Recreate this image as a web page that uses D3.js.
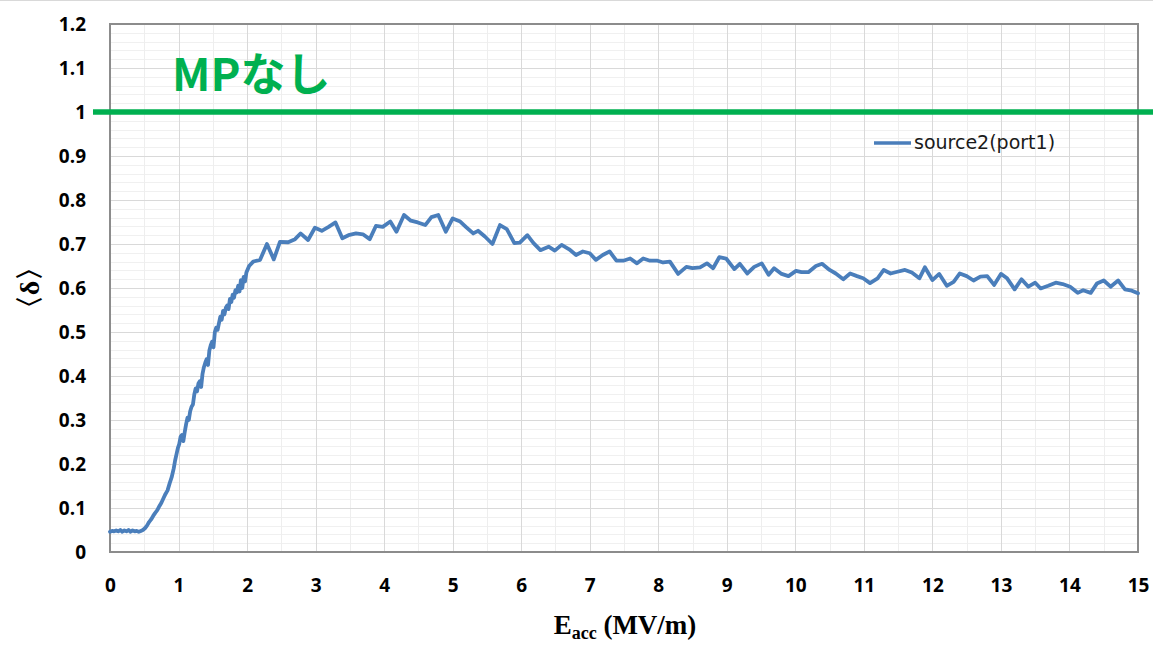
<!DOCTYPE html>
<html>
<head>
<meta charset="utf-8">
<script src="https://cdn.jsdelivr.net/npm/d3@7"></script>
<style>
  html, body { margin: 0; padding: 0; background: #fff; }
  svg { display: block; }
</style>
</head>
<body>
<div id="chart"></div>
<script>
// ---- Data ----
const eacc = [
  0.00,0.03,0.06,0.09,0.12,0.15,0.18,0.21,0.24,0.27,0.30,0.33,0.36,0.39,0.42,0.45,0.48,
  0.51,0.54,0.57,0.60,0.63,0.66,0.69,0.72,0.75,0.78,0.81,0.84,0.87,0.90,0.93,0.95,0.97,0.99,
  1.01,1.03,1.05,1.07,1.09,1.11,1.13,1.15,1.17,1.19,1.21,1.23,1.25,1.27,1.29,1.31,1.33,1.35,
  1.37,1.39,1.41,1.43,1.45,1.47,1.49,1.51,1.53,1.55,1.57,1.59,1.61,1.63,1.65,1.67,1.69,1.71,
  1.73,1.75,1.77,1.79,1.81,1.83,1.85,1.87,1.89,1.91,1.93,1.95,1.97,1.99,2.03,2.09,2.19,
  2.29,2.39,2.48,2.60,2.70,2.78,2.89,2.99,3.09,3.19,3.29,3.39,3.48,3.59,3.69,3.79,3.88,3.98,
  4.09,4.18,4.29,4.39,4.49,4.60,4.69,4.79,4.90,5.00,5.11,5.20,5.30,5.37,5.47,5.58,5.69,5.79,
  5.90,5.98,6.09,6.18,6.28,6.40,6.49,6.59,6.70,6.80,6.90,7.00,7.09,7.19,7.29,7.39,7.49,7.59,
  7.69,7.78,7.88,7.99,8.07,8.17,8.29,8.41,8.50,8.61,8.71,8.80,8.89,8.99,9.11,9.19,9.30,9.40,
  9.51,9.61,9.69,9.80,9.90,10.01,10.09,10.19,10.30,10.39,10.50,10.59,10.70,10.80,10.90,10.99,
  11.09,11.20,11.29,11.39,11.49,11.60,11.70,11.81,11.89,12.00,12.10,12.21,12.31,12.40,12.50,
  12.60,12.70,12.80,12.90,13.00,13.09,13.20,13.30,13.40,13.50,13.58,13.69,13.80,13.90,14.01,
  14.12,14.20,14.31,14.40,14.50,14.60,14.71,14.81,14.91,15.00
];
const delta = [
  0.046,0.048,0.047,0.049,0.047,0.050,0.046,0.049,0.047,0.050,0.046,0.049,0.047,0.048,0.046,0.048,0.050,
  0.054,0.060,0.068,0.074,0.082,0.089,0.095,0.104,0.112,0.122,0.132,0.140,0.156,0.170,0.190,0.208,0.222,0.236,
  0.245,0.262,0.266,0.252,0.272,0.290,0.305,0.300,0.320,0.330,0.335,0.358,0.372,0.365,0.383,0.388,0.375,0.405,
  0.420,0.430,0.438,0.425,0.458,0.470,0.478,0.465,0.500,0.510,0.505,0.520,0.535,0.528,0.548,0.540,0.555,0.560,
  0.552,0.575,0.568,0.585,0.578,0.595,0.590,0.605,0.592,0.618,0.600,0.625,0.615,0.635,0.650,0.660,0.664,
  0.700,0.665,0.705,0.704,0.711,0.724,0.709,0.737,0.730,0.739,0.749,0.713,0.720,0.724,0.722,0.711,0.741,0.739,
  0.751,0.728,0.766,0.753,0.749,0.743,0.761,0.766,0.728,0.758,0.751,0.738,0.724,0.730,0.717,0.700,0.743,0.734,
  0.702,0.703,0.720,0.702,0.686,0.694,0.685,0.698,0.688,0.675,0.683,0.679,0.664,0.675,0.683,0.662,0.662,0.667,
  0.656,0.667,0.662,0.662,0.658,0.660,0.632,0.648,0.645,0.647,0.656,0.645,0.670,0.667,0.643,0.655,0.633,0.648,
  0.656,0.630,0.645,0.632,0.627,0.639,0.636,0.636,0.650,0.655,0.641,0.633,0.620,0.633,0.627,0.622,
  0.611,0.622,0.641,0.633,0.637,0.641,0.635,0.622,0.647,0.618,0.632,0.605,0.614,0.633,0.627,
  0.617,0.626,0.627,0.607,0.632,0.622,0.597,0.620,0.603,0.612,0.599,0.605,0.612,0.609,0.603,
  0.589,0.595,0.589,0.610,0.617,0.603,0.617,0.597,0.594,0.588
];
const xTicks = [0,1,2,3,4,5,6,7,8,9,10,11,12,13,14,15];
const yTicks = [0,0.1,0.2,0.3,0.4,0.5,0.6,0.7,0.8,0.9,1,1.1,1.2];
const seriesName = "source2(port1)";
const refLineValue = 1;
const refLabel = "MPなし";

// ---- Layout ----
const W = 1153, H = 649;
const plot = { left: 110, right: 1138, top: 24, bottom: 552 };

const svg = d3.select("#chart").append("svg").attr("width", W).attr("height", H);

// top frame line of image
svg.append("line").attr("x1", 0).attr("x2", W).attr("y1", 0.5).attr("y2", 0.5)
  .attr("stroke", "#d9d9d9").attr("stroke-width", 1);

const x = d3.scaleLinear().domain([0, 15]).range([plot.left, plot.right]);
const y = d3.scaleLinear().domain([0, 1.2]).range([plot.bottom, plot.top]);

// minor grid
const g = svg.append("g");
const minorY = d3.range(0, 1.2001, 0.02).map(v => +v.toFixed(2));
g.selectAll("line.minorY").data(minorY).enter().append("line")
  .attr("x1", plot.left).attr("x2", plot.right)
  .attr("y1", d => Math.round(y(d)) + 0.5).attr("y2", d => Math.round(y(d)) + 0.5)
  .attr("stroke", "#f0f0f0").attr("stroke-width", 1);
const minorX = d3.range(0.5, 15, 1);
g.selectAll("line.minorX").data(minorX).enter().append("line")
  .attr("y1", plot.top).attr("y2", plot.bottom)
  .attr("x1", d => Math.round(x(d)) + 0.5).attr("x2", d => Math.round(x(d)) + 0.5)
  .attr("stroke", "#eeeeee").attr("stroke-width", 1);
// major grid
g.selectAll("line.majorY").data(yTicks).enter().append("line")
  .attr("x1", plot.left).attr("x2", plot.right)
  .attr("y1", d => Math.round(y(d)) + 0.5).attr("y2", d => Math.round(y(d)) + 0.5)
  .attr("stroke", "#d9d9d9").attr("stroke-width", 1);
g.selectAll("line.majorX").data(xTicks).enter().append("line")
  .attr("y1", plot.top).attr("y2", plot.bottom)
  .attr("x1", d => Math.round(x(d)) + 0.5).attr("x2", d => Math.round(x(d)) + 0.5)
  .attr("stroke", "#d9d9d9").attr("stroke-width", 1);

// plot border
svg.append("rect").attr("x", plot.left).attr("y", plot.top)
  .attr("width", plot.right - plot.left).attr("height", plot.bottom - plot.top)
  .attr("fill", "none").attr("stroke", "#8c8c8c").attr("stroke-width", 2);

// axes (labels only)
const tickFont = "'Open Sans', 'Noto Sans', sans-serif";
const yAxis = d3.axisLeft(y).tickValues(yTicks).tickSize(0).tickPadding(0)
  .tickFormat(d => String(+d.toFixed(1)));
svg.append("g").attr("transform", `translate(${plot.left - 24},0)`).call(yAxis)
  .call(s => s.select(".domain").remove())
  .selectAll("text").attr("font-family", tickFont).attr("font-weight", "bold")
  .attr("font-size", 19).attr("fill", "#000").attr("dy", "0.35em");

const xAxis = d3.axisBottom(x).tickValues(xTicks).tickSize(0).tickPadding(0)
  .tickFormat(d => String(d));
svg.append("g").attr("transform", `translate(0,${plot.bottom + 26})`).call(xAxis)
  .call(s => s.select(".domain").remove())
  .selectAll("text").attr("font-family", tickFont).attr("font-weight", "bold")
  .attr("font-size", 19).attr("fill", "#000").attr("dy", "0.71em");

// axis titles
const xt = svg.append("text").attr("x", (plot.left + plot.right) / 2 + 1).attr("y", 634)
  .attr("text-anchor", "middle").attr("font-family", "'Liberation Serif', serif")
  .attr("font-weight", "bold").attr("font-size", 27).attr("fill", "#000");
xt.append("tspan").text("E");
xt.append("tspan").attr("font-size", 18).attr("dy", 5).text("acc");
xt.append("tspan").attr("dy", -5).text(" (MV/m)");

svg.append("text").attr("transform", "translate(39,288) rotate(-90)")
  .attr("text-anchor", "middle").attr("font-family", "'Liberation Serif', 'DejaVu Serif', serif")
  .attr("font-weight", "bold").attr("font-size", 28).attr("fill", "#000")
  .text("〈δ〉");

// data line
const pts = eacc.map((e, i) => [e, delta[i]]);
const line = d3.line().x(d => x(d[0])).y(d => y(d[1]));
svg.append("path").datum(pts).attr("d", line)
  .attr("fill", "none").attr("stroke", "#4a7ebb").attr("stroke-width", 3.8)
  .attr("stroke-linejoin", "round").attr("stroke-linecap", "round");

// reference line
svg.append("line").attr("x1", 93).attr("x2", W)
  .attr("y1", y(refLineValue)).attr("y2", y(refLineValue))
  .attr("stroke", "#00b050").attr("stroke-width", 5.5);

svg.append("text").attr("x", 172).attr("y", 91)
  .attr("font-family", "'Noto Sans CJK JP', sans-serif").attr("font-weight", "bold")
  .attr("font-size", 45).attr("fill", "#00b050").text(refLabel);

// legend
svg.append("line").attr("x1", 874).attr("x2", 911).attr("y1", 143).attr("y2", 143)
  .attr("stroke", "#4a7ebb").attr("stroke-width", 3.5);
svg.append("text").attr("x", 914).attr("y", 149)
  .attr("font-family", "'DejaVu Sans', sans-serif").attr("font-size", 19)
  .attr("fill", "#1a1a1a").text(seriesName);
</script>
</body>
</html>
